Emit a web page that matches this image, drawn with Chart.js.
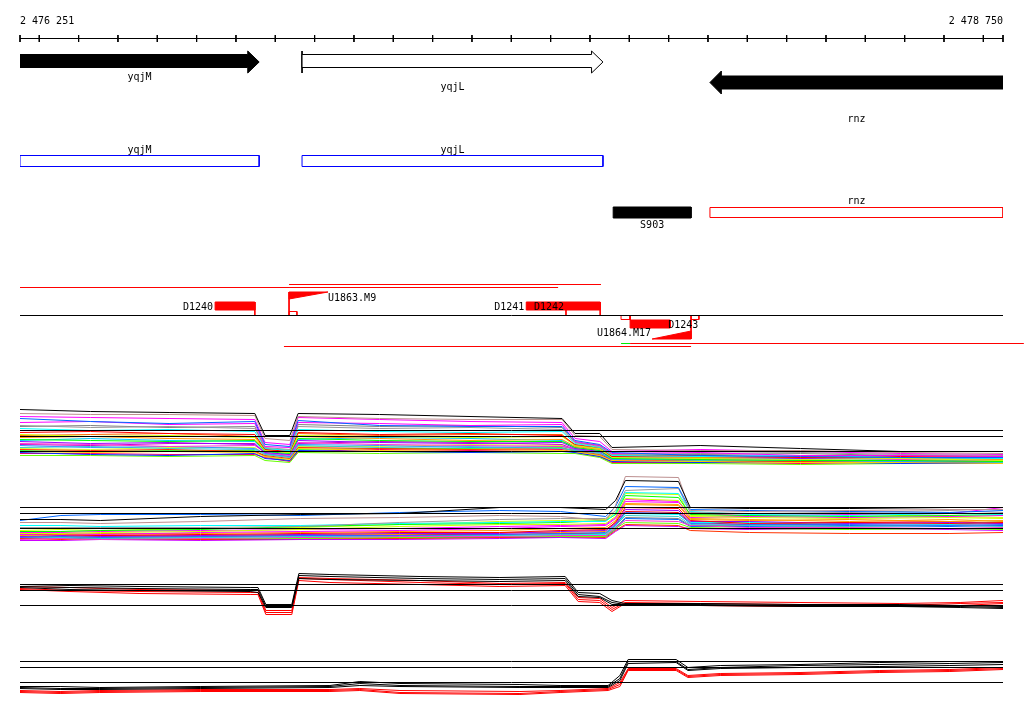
<!DOCTYPE html>
<html>
<head>
<meta charset="utf-8">
<script src="https://cdn.jsdelivr.net/npm/chart.js@4/dist/chart.umd.min.js"></script>
<style>
html, body { margin: 0; padding: 0; background: #fff; }
canvas { display: block; }
</style>
</head>
<body>
<canvas id="browser" width="1024" height="714"></canvas>
<script>
// region shown (bp)
const REGION_START = 2476251;
const REGION_END = 2478750;
const AXIS_TICKS = [2476251, 2476300, 2476400, 2476500, 2476600, 2476700, 2476800, 2476900, 2477000,
  2477100, 2477200, 2477300, 2477400, 2477500, 2477600, 2477700, 2477800, 2477900, 2478000,
  2478100, 2478200, 2478300, 2478400, 2478500, 2478600, 2478700, 2478750];
const AXIS_LABELS = ['2 476 251', '2 478 750'];

// genes (arrows)
const GENE_NAMES = ['yqjM', 'yqjL', 'rnz'];
const GENE_START = [2476251, 2476968, 2478005];
const GENE_END = [2476859, 2477733, 2478750];
const GENE_STRAND = [1, 1, -1];

// annotation boxes
const ANNOT_NAMES = ['yqjM', 'yqjL', 'S903', 'rnz'];
const ANNOT_START = [2476251, 2476968, 2477759, 2478005];
const ANNOT_END = [2476859, 2477733, 2477957, 2478750];

// terminators
const TERM_NAMES = ['D1240', 'D1241', 'D1242', 'D1243'];
const TERM_START = [2476747, 2477538, 2477639, 2477802];
const TERM_END = [2476848, 2477639, 2477726, 2477904];
const TERM_STRAND = [1, 1, 1, -1];

// promoters
const PROM_NAMES = ['U1863.M9', 'U1864.M17'];
const PROM_START = [2476935, 2477858];
const PROM_END = [2477034, 2477957];
const PROM_STRAND = [1, -1];

// small sites
const SITE_START = [2476935, 2477779, 2477957];
const SITE_END = [2476955, 2477802, 2477977];
const SITE_STRAND = [1, -1, -1];

// transcription units
const TU_START = [2476251, 2476935, 2476922, 2477802, 2477779];
const TU_END = [2477619, 2477728, 2477957, 2478803, 2477802];

// expression tracks
const REF_LEVELS = [8.0, 6.8, 3.8];

const T1_POS = [2476251, 2476430, 2476630, 2476848, 2476874, 2476937, 2476958, 2477165, 2477395,
  2477629, 2477662, 2477725, 2477756, 2477980, 2478235, 2478490, 2478750];
const T1_VALUES = [
  [12.2, 11.8, 11.6, 11.4, 7.0, 7.0, 11.4, 11.2, 10.8, 10.4, 7.4, 7.4, 4.6, 5.0, 4.4, 3.8, 3.8],
  [11.4, 11.2, 11.2, 11.0, 6.4, 6.0, 10.8, 10.4, 10.2, 10.2, 7.0, 6.8, 4.2, 4.0, 4.0, 3.6, 3.4],
  [10.4, 9.8, 9.4, 9.8, 5.2, 4.8, 10.0, 9.0, 8.8, 8.8, 6.0, 5.2, 3.6, 3.0, 2.8, 2.6, 2.6],
  [9.6, 9.8, 9.2, 9.4, 4.8, 4.6, 9.6, 9.4, 9.0, 9.2, 5.8, 5.0, 3.4, 3.6, 3.0, 3.0, 2.8],
  [9.0, 8.6, 8.8, 8.4, 4.6, 4.2, 8.8, 8.4, 8.6, 8.2, 5.6, 4.8, 3.2, 3.4, 3.6, 3.2, 3.0],
  [8.4, 8.0, 8.2, 7.8, 4.4, 4.0, 8.2, 7.8, 7.6, 7.8, 5.4, 4.6, 3.0, 2.8, 3.0, 2.6, 2.4],
  [7.6, 7.8, 7.4, 7.2, 4.2, 3.8, 7.6, 7.2, 7.4, 7.0, 5.2, 4.6, 2.8, 3.0, 2.6, 2.8, 2.6],
  [7.2, 6.8, 7.0, 6.6, 4.0, 3.6, 7.0, 6.8, 6.6, 6.8, 5.0, 4.4, 2.6, 2.4, 2.2, 2.4, 2.0],
  [6.6, 6.8, 6.4, 6.2, 4.0, 3.6, 6.8, 6.4, 6.0, 6.2, 4.8, 4.2, 2.8, 2.6, 2.8, 2.4, 2.2],
  [6.2, 6.0, 5.8, 6.0, 3.8, 3.4, 6.4, 6.0, 5.8, 5.8, 4.6, 4.0, 2.4, 2.2, 2.0, 2.0, 1.8],
  [5.8, 5.4, 5.6, 5.2, 3.6, 3.2, 6.0, 5.6, 5.4, 5.6, 4.4, 3.8, 2.6, 2.8, 2.4, 2.6, 2.4],
  [5.4, 5.2, 4.8, 5.0, 3.6, 3.0, 5.6, 5.2, 5.0, 4.8, 4.4, 3.8, 2.8, 2.4, 2.6, 2.2, 2.0],
  [5.0, 4.6, 4.8, 4.4, 3.4, 2.8, 5.2, 5.0, 4.6, 4.8, 4.2, 3.6, 2.2, 2.4, 2.0, 1.8, 2.0],
  [4.6, 4.8, 4.4, 4.2, 3.2, 2.6, 5.0, 4.6, 4.8, 4.4, 4.0, 3.4, 2.4, 2.0, 2.2, 1.8, 1.6],
  [4.2, 4.0, 4.2, 3.8, 3.0, 2.4, 4.6, 4.4, 4.2, 4.4, 4.0, 3.2, 2.2, 2.0, 1.8, 2.0, 1.6],
  [3.8, 3.6, 3.8, 3.6, 2.8, 2.2, 4.4, 4.0, 4.2, 4.0, 3.8, 3.0, 2.0, 1.8, 1.6, 1.6, 1.4],
  [3.6, 3.2, 3.0, 3.4, 2.4, 2.0, 4.0, 3.8, 3.6, 3.8, 3.6, 2.8, 1.8, 1.6, 1.8, 1.4, 1.4],
  [3.0, 3.0, 2.8, 3.0, 2.0, 1.6, 3.6, 3.4, 3.6, 3.4, 3.4, 2.6, 1.4, 1.4, 1.2, 1.4, 1.4],
  [10.8, 10.6, 10.4, 10.2, 5.6, 5.2, 10.6, 10.2, 9.8, 9.6, 6.4, 5.8, 3.8, 4.2, 3.8, 3.4, 3.2],
  [8.8, 9.0, 8.6, 8.8, 4.4, 4.0, 9.2, 8.8, 9.0, 8.6, 5.6, 5.0, 3.0, 3.2, 3.4, 3.0, 2.8],
  [7.0, 7.2, 7.4, 6.8, 4.2, 3.6, 7.4, 7.0, 7.2, 7.2, 5.0, 4.4, 3.2, 2.8, 2.6, 3.0, 2.8],
  [6.0, 6.4, 6.0, 5.8, 3.8, 3.2, 6.2, 6.6, 6.4, 6.0, 4.6, 4.0, 2.2, 2.6, 2.4, 2.2, 2.4],
  [5.2, 5.0, 5.4, 5.4, 3.4, 2.8, 5.4, 5.8, 5.6, 5.2, 4.2, 3.6, 2.0, 2.2, 2.4, 2.6, 2.2],
  [4.4, 4.2, 4.6, 4.6, 3.2, 2.6, 4.8, 4.8, 5.2, 5.0, 4.0, 3.4, 1.8, 2.0, 1.6, 1.8, 2.0],
  [3.4, 3.4, 3.2, 3.2, 2.6, 1.8, 3.8, 4.2, 4.0, 4.2, 3.6, 2.8, 1.6, 1.6, 1.4, 1.6, 1.6],
  [4.0, 3.8, 4.0, 4.0, 2.8, 2.0, 4.2, 4.4, 4.4, 4.6, 3.8, 3.0, 1.6, 1.8, 2.0, 1.6, 1.8]
];

const T2_POS = [2476251, 2476355, 2476455, 2476710, 2476965, 2477215, 2477470, 2477625, 2477740,
  2477765, 2477790, 2477925, 2477955, 2478105, 2478360, 2478615, 2478750];
const T2_VALUES = [
  [5.6, 5.6, 5.4, 6.2, 6.6, 6.8, 8.0, 8.0, 7.6, 9.4, 13.4, 13.2, 8.0, 7.8, 7.8, 8.0, 8.0],
  [5.0, 5.0, 4.8, 5.2, 5.8, 6.0, 6.4, 6.2, 5.4, 8.4, 14.2, 14.0, 7.4, 7.2, 7.4, 7.6, 7.6],
  [5.4, 6.4, 6.6, 6.6, 6.4, 7.0, 7.4, 7.2, 6.2, 8.2, 12.2, 12.0, 7.6, 7.4, 7.2, 7.0, 7.4],
  [4.0, 4.0, 4.0, 4.0, 4.2, 5.0, 5.6, 5.8, 5.8, 7.4, 11.4, 11.8, 7.0, 6.8, 7.0, 7.4, 7.0],
  [4.4, 4.4, 4.2, 4.4, 4.4, 4.8, 5.0, 5.2, 5.2, 6.8, 11.0, 10.8, 7.2, 6.6, 6.4, 6.8, 6.6],
  [3.2, 3.2, 3.4, 3.6, 4.2, 4.6, 4.8, 5.0, 5.4, 6.6, 10.4, 10.0, 6.6, 6.4, 6.2, 6.4, 6.6],
  [2.8, 2.8, 3.0, 3.2, 3.6, 4.2, 4.6, 4.6, 4.8, 6.2, 9.8, 9.4, 6.2, 6.0, 5.8, 6.0, 5.8],
  [2.6, 2.8, 2.6, 3.0, 3.2, 3.4, 3.8, 4.2, 4.4, 5.8, 9.2, 9.0, 6.8, 6.4, 6.6, 6.8, 8.0],
  [2.4, 2.6, 2.8, 2.8, 3.0, 3.2, 3.4, 3.8, 4.0, 5.4, 8.6, 8.4, 5.6, 5.4, 5.6, 5.2, 5.4],
  [2.8, 2.6, 2.4, 2.6, 2.8, 3.0, 3.0, 3.4, 3.6, 5.0, 8.0, 7.8, 5.4, 4.8, 5.0, 4.8, 5.0],
  [2.2, 2.4, 2.2, 2.4, 2.6, 2.8, 2.8, 3.2, 3.4, 4.8, 7.6, 7.4, 5.2, 5.2, 4.8, 5.0, 4.8],
  [2.0, 2.2, 2.0, 2.2, 2.4, 2.4, 2.6, 2.8, 3.0, 4.6, 7.0, 6.8, 4.8, 4.6, 4.6, 4.4, 4.6],
  [2.4, 2.0, 1.8, 2.0, 2.2, 2.4, 2.4, 2.6, 2.8, 4.4, 6.4, 6.2, 4.6, 4.4, 4.2, 4.4, 4.2],
  [1.6, 1.8, 1.6, 1.8, 2.0, 2.2, 2.2, 2.4, 2.4, 4.0, 5.4, 5.2, 4.4, 4.0, 4.0, 3.8, 4.0],
  [2.0, 2.2, 2.0, 1.8, 1.8, 2.0, 2.2, 2.2, 2.2, 3.8, 5.0, 4.8, 4.0, 3.8, 3.6, 3.8, 3.6],
  [1.8, 1.6, 1.8, 1.6, 1.8, 1.8, 2.0, 2.2, 2.0, 3.4, 4.6, 4.4, 3.4, 3.0, 2.8, 2.8, 3.0],
  [3.0, 3.0, 3.2, 3.4, 3.6, 3.8, 4.2, 4.4, 4.6, 6.0, 9.6, 9.2, 6.0, 6.2, 6.0, 6.2, 6.4],
  [1.4, 1.4, 1.6, 1.4, 1.6, 1.6, 1.8, 2.0, 1.8, 3.2, 4.4, 4.2, 3.8, 3.6, 3.8, 3.6, 3.4],
  [2.6, 2.4, 2.6, 2.4, 2.6, 2.6, 3.0, 3.0, 3.2, 5.2, 8.8, 8.6, 5.8, 5.6, 5.2, 5.6, 5.2],
  [2.2, 2.0, 2.2, 2.0, 2.2, 2.2, 2.4, 2.6, 2.6, 4.2, 6.8, 6.6, 5.0, 5.0, 4.8, 4.6, 5.2],
  [3.4, 3.6, 3.4, 3.8, 4.0, 4.6, 5.2, 5.4, 5.6, 7.0, 10.8, 10.6, 6.4, 6.2, 6.6, 6.2, 6.0],
  [1.8, 2.0, 1.6, 1.6, 1.6, 2.0, 2.0, 2.0, 2.2, 3.6, 5.8, 5.6, 4.2, 4.2, 4.4, 4.2, 4.4],
  [2.6, 2.6, 2.4, 2.2, 2.4, 2.6, 2.6, 2.8, 2.8, 4.4, 7.2, 7.0, 5.0, 4.6, 5.0, 5.2, 4.8],
  [2.0, 1.8, 2.2, 2.4, 2.0, 1.8, 2.0, 2.4, 2.4, 4.0, 6.0, 5.8, 4.4, 4.4, 4.2, 4.6, 4.4]
];

const T3_POS = [2476251, 2476378, 2476556, 2476836, 2476856, 2476876, 2476942, 2476960, 2477039,
  2477268, 2477471, 2477637, 2477670, 2477725, 2477756, 2477789, 2477980, 2478234, 2478488,
  2478641, 2478750];
const T3_VALUES = [
  [8.0, 7.8, 7.6, 7.4, 7.4, 4.0, 4.0, 10.2, 10.0, 9.6, 9.4, 9.6, 6.4, 6.2, 4.8, 4.2, 4.2, 4.0, 4.0, 3.8, 3.6],
  [7.6, 7.4, 7.2, 7.0, 7.0, 3.6, 3.6, 9.8, 9.6, 9.2, 9.0, 9.2, 6.0, 5.6, 4.4, 4.0, 3.8, 3.6, 3.6, 3.6, 3.4],
  [7.4, 7.0, 6.8, 6.6, 6.4, 3.4, 3.4, 9.2, 9.0, 8.8, 8.6, 8.8, 5.6, 5.4, 4.0, 4.0, 4.0, 3.8, 3.6, 3.4, 3.2],
  [7.6, 7.4, 7.0, 6.8, 6.8, 2.8, 2.8, 9.4, 9.2, 8.8, 8.2, 8.4, 5.4, 5.2, 3.4, 4.8, 4.6, 4.4, 4.2, 4.4, 4.8],
  [7.2, 6.8, 6.6, 6.4, 6.4, 2.4, 2.4, 9.2, 9.0, 8.4, 8.0, 8.2, 5.0, 4.8, 3.0, 4.4, 4.2, 4.0, 3.8, 4.2, 4.4],
  [7.0, 6.6, 6.2, 6.0, 6.0, 2.0, 2.0, 8.8, 8.4, 8.0, 7.6, 7.8, 4.6, 4.4, 2.6, 4.2, 3.8, 3.6, 3.6, 3.8, 4.2]
];

const T4_POS = [2476251, 2476353, 2476454, 2476709, 2477039, 2477115, 2477217, 2477522, 2477624,
  2477746, 2477776, 2477797, 2477919, 2477949, 2478031, 2478234, 2478437, 2478615, 2478750];
const T4_VALUES = [
  [3.0, 3.0, 2.8, 3.0, 3.2, 4.0, 3.6, 3.4, 3.2, 3.2, 5.2, 8.4, 8.4, 6.8, 7.2, 7.4, 7.8, 8.0, 8.0],
  [2.8, 2.6, 2.6, 2.8, 3.0, 3.6, 3.2, 3.0, 3.0, 3.0, 4.6, 8.0, 8.0, 6.4, 6.8, 7.2, 7.4, 7.6, 7.8],
  [2.6, 2.4, 2.4, 2.6, 2.8, 3.2, 3.0, 2.8, 2.8, 2.8, 4.2, 7.6, 7.8, 6.2, 6.6, 6.8, 7.0, 7.2, 7.4],
  [2.2, 2.0, 2.2, 2.4, 2.4, 2.6, 2.2, 2.0, 2.2, 2.6, 3.8, 6.6, 6.6, 5.2, 5.6, 5.8, 6.2, 6.4, 6.8],
  [2.0, 1.8, 2.0, 2.2, 2.2, 2.4, 1.8, 1.6, 2.0, 2.4, 3.4, 6.4, 6.4, 5.0, 5.4, 5.6, 6.0, 6.2, 6.6],
  [1.8, 1.6, 1.8, 2.0, 2.0, 2.2, 1.6, 1.4, 1.8, 2.2, 3.0, 6.2, 6.2, 4.8, 5.2, 5.4, 5.8, 6.0, 6.4]
];

// ---- styles / layout (pixels on the layout axis) ----
const T1_COLORS = ['#000000', '#bc8f8f', '#0066ff', '#ff00ff', '#999999', '#00ffff', '#ff0000', '#ccff00', '#ff9900',
  '#00ff00', '#9900ff', '#ff33cc', '#3399ff', '#33cccc', '#ff3300', '#ffcc00', '#0033ff', '#66ff00',
  '#ff00ff', '#808080', '#ff6600', '#00ccff', '#cc00cc', '#ccff33', '#ff0066', '#33ff33'];
const T2_COLORS = ['#000000', '#bc8f8f', '#0066ff', '#999999', '#00ffff', '#00ff00', '#ccff00', '#ff00ff', '#ff9900',
  '#ff0000', '#9900ff', '#3366ff', '#33cccc', '#ff33cc', '#66ff00', '#ff3300',
  '#ff00ff', '#cc00ff', '#ff9900', '#00ffff', '#ccff00', '#0066ff', '#ff0000', '#808080'];
const PAIR_COLORS = ['#000000', '#000000', '#000000', '#ff0000', '#ff0000', '#ff0000'];
const GENE_FILL = ['#000000', '#ffffff', '#000000'];
const GENE_LABEL_Y = [80, 90, 122];
const ANNOT_STYLE = [
  { top: 155.5, bottom: 166.5, fill: null, stroke: '#0000ff', labelY: 153 },
  { top: 155.5, bottom: 166.5, fill: null, stroke: '#0000ff', labelY: 153 },
  { top: 207, bottom: 218, fill: '#000000', stroke: '#000000', labelY: 228 },
  { top: 207.5, bottom: 217.5, fill: null, stroke: '#ff0000', labelY: 204 }
];
const TU_ROW = [287.5, 284.5, 346.5, 343.5, 343.5];
const TU_COLOR = ['#ff0000', '#ff0000', '#ff0000', '#ff0000', '#00ee00'];
const TRACK_BASE = [470.5, 547.5, 624.5, 701.5];
const H = 714;
const PX_PER_UNIT = 5;
const HEAD_BP = 29;
const BASELINE = 315.5;
const ROW_PLUS = { top: 54.5, bottom: 67.5, headTop: 51, headBottom: 73 };
const ROW_MINUS = { top: 76, bottom: 89, headTop: 71, headBottom: 94 };
const FONT = '10px "DejaVu Sans Mono", monospace';

const datasets = [];
const labels = [];

function addLine(points, color, extra) {
    datasets.push(Object.assign({
        data: points,
        borderColor: color,
        backgroundColor: color,
        borderWidth: 1,
        pointRadius: 0,
        fill: false,
        tension: 0,
        yAxisID: 'yL'
    }, extra || {}));
}

function addShape(points, fillColor, strokeColor) {
    addLine(points.concat([points[0]]), strokeColor, { fill: 'shape', backgroundColor: fillColor });
}

function rect(x0, x1, y0, y1) {
    return [{ x: x0, y: y0 }, { x: x1, y: y0 }, { x: x1, y: y1 }, { x: x0, y: y1 }];
}

// ruler
addLine([{ x: REGION_START, y: 38.5 }, { x: REGION_END, y: 38.5 }], '#000');
const tickPts = [];
AXIS_TICKS.forEach(t => {
    tickPts.push({ x: t, y: 35 }, { x: t, y: 42 }, { x: t, y: null });
});
addLine(tickPts, '#000', { clip: false });
labels.push({ text: AXIS_LABELS[0], pos: REGION_START, y: 24, align: 'left' });
labels.push({ text: AXIS_LABELS[1], pos: REGION_END, y: 24, align: 'right' });

// gene arrows
GENE_NAMES.forEach((name, i) => {
    const s = GENE_START[i], e = GENE_END[i];
    const r = GENE_STRAND[i] > 0 ? ROW_PLUS : ROW_MINUS;
    const mid = (r.headTop + r.headBottom) / 2;
    let pts;
    if (GENE_STRAND[i] > 0) {
        pts = [{ x: s, y: r.top }, { x: e - HEAD_BP, y: r.top }, { x: e - HEAD_BP, y: r.headTop }, { x: e, y: mid },
            { x: e - HEAD_BP, y: r.headBottom }, { x: e - HEAD_BP, y: r.bottom }, { x: s, y: r.bottom }];
    } else {
        pts = [{ x: e, y: r.top }, { x: s + HEAD_BP, y: r.top }, { x: s + HEAD_BP, y: r.headTop }, { x: s, y: mid },
            { x: s + HEAD_BP, y: r.headBottom }, { x: s + HEAD_BP, y: r.bottom }, { x: e, y: r.bottom }];
    }
    addShape(pts, GENE_FILL[i], '#000');
    if (GENE_FILL[i] === '#ffffff') {
        addLine([{ x: s, y: r.headTop }, { x: s, y: r.headBottom }], '#000');
    }
    labels.push({ text: name, pos: (s + e) / 2, y: GENE_LABEL_Y[i], align: 'center' });
});

// annotation boxes
ANNOT_NAMES.forEach((name, i) => {
    const st = ANNOT_STYLE[i];
    const pts = rect(ANNOT_START[i], ANNOT_END[i], st.top, st.bottom);
    if (st.fill) addShape(pts, st.fill, st.stroke);
    else addLine(pts.concat([pts[0]]), st.stroke);
    labels.push({ text: name, pos: (ANNOT_START[i] + ANNOT_END[i]) / 2, y: st.labelY, align: 'center' });
});

// transcription units
TU_START.forEach((s, i) => {
    addLine([{ x: s, y: TU_ROW[i] }, { x: TU_END[i], y: TU_ROW[i] }], TU_COLOR[i], { clip: false });
});

// baseline
addLine([{ x: REGION_START, y: BASELINE }, { x: REGION_END, y: BASELINE }], '#000');

// terminators
TERM_NAMES.forEach((name, i) => {
    const s = TERM_START[i], e = TERM_END[i];
    if (TERM_STRAND[i] > 0) {
        addShape(rect(s, e, 302, 310), '#ff0000', '#ff0000');
        addLine([{ x: e, y: 302 }, { x: e, y: BASELINE }], '#ff0000');
        labels.push({ text: name, pos: s, dx: -2, y: 310, align: 'right' });
    } else {
        addShape(rect(s, e, 320, 328), '#ff0000', '#ff0000');
        addLine([{ x: s, y: BASELINE }, { x: s, y: 320 }], '#ff0000');
        labels.push({ text: name, pos: e, dx: -2, y: 328, align: 'left' });
    }
});

// promoters
PROM_NAMES.forEach((name, i) => {
    const s = PROM_START[i], e = PROM_END[i];
    if (PROM_STRAND[i] > 0) {
        addShape([{ x: s, y: 292 }, { x: e, y: 292 }, { x: s, y: 299 }], '#ff0000', '#ff0000');
        addLine([{ x: s, y: 292 }, { x: s, y: BASELINE }], '#ff0000');
        labels.push({ text: name, pos: e, dx: 0, y: 301, align: 'left' });
    } else {
        addShape([{ x: s, y: 339 }, { x: e, y: 339 }, { x: e, y: 331 }], '#ff0000', '#ff0000');
        addLine([{ x: e, y: BASELINE }, { x: e, y: 339 }], '#ff0000');
        labels.push({ text: name, pos: s, dx: -1, y: 336, align: 'right' });
    }
});

// small sites
SITE_START.forEach((s, i) => {
    const pts = SITE_STRAND[i] > 0 ? rect(s, SITE_END[i], 311.5, 315.5) : rect(s, SITE_END[i], 315.5, 319.5);
    addLine(pts.concat([pts[0]]), '#ff0000');
});

// expression tracks
function addTrack(axisId, positions, series, colors) {
    REF_LEVELS.forEach(v => {
        addLine([{ x: REGION_START, y: v }, { x: REGION_END, y: v }], '#000', { yAxisID: axisId, order: -1 });
    });
    series.forEach((vals, k) => {
        addLine(positions.map((p, j) => ({ x: p, y: vals[j] })), colors[k], { yAxisID: axisId });
    });
}
addTrack('t1', T1_POS, T1_VALUES, T1_COLORS);
addTrack('t2', T2_POS, T2_VALUES, T2_COLORS);
addTrack('t3', T3_POS, T3_VALUES, PAIR_COLORS);
addTrack('t4', T4_POS, T4_VALUES, PAIR_COLORS);

function trackScale(base) {
    const min = -(H - base) / PX_PER_UNIT;
    return { type: 'linear', display: false, min: min, max: min + H / PX_PER_UNIT };
}

const labelPlugin = {
    id: 'featureLabels',
    afterDatasetsDraw(chart) {
        const ctx = chart.ctx;
        const xs = chart.scales.x, ys = chart.scales.yL;
        ctx.save();
        ctx.font = FONT;
        ctx.fillStyle = '#000';
        ctx.textBaseline = 'alphabetic';
        labels.forEach(l => {
            ctx.textAlign = l.align;
            ctx.fillText(l.text, xs.getPixelForValue(l.pos) + (l.dx || 0), ys.getPixelForValue(l.y));
        });
        ctx.restore();
    }
};

const chart = new Chart(document.getElementById('browser').getContext('2d'), {
    type: 'line',
    data: { datasets: datasets },
    options: {
        responsive: false,
        devicePixelRatio: 1,
        animation: false,
        layout: { padding: { left: 20, right: 21, top: 0, bottom: 0 } },
        plugins: { legend: { display: false }, tooltip: { enabled: false } },
        scales: {
            x: { type: 'linear', display: false, min: REGION_START, max: REGION_END },
            yL: { type: 'linear', display: false, min: 0, max: H, reverse: true },
            t1: trackScale(TRACK_BASE[0]),
            t2: trackScale(TRACK_BASE[1]),
            t3: trackScale(TRACK_BASE[2]),
            t4: trackScale(TRACK_BASE[3])
        }
    },
    plugins: [labelPlugin]
});
</script>
</body>
</html>
